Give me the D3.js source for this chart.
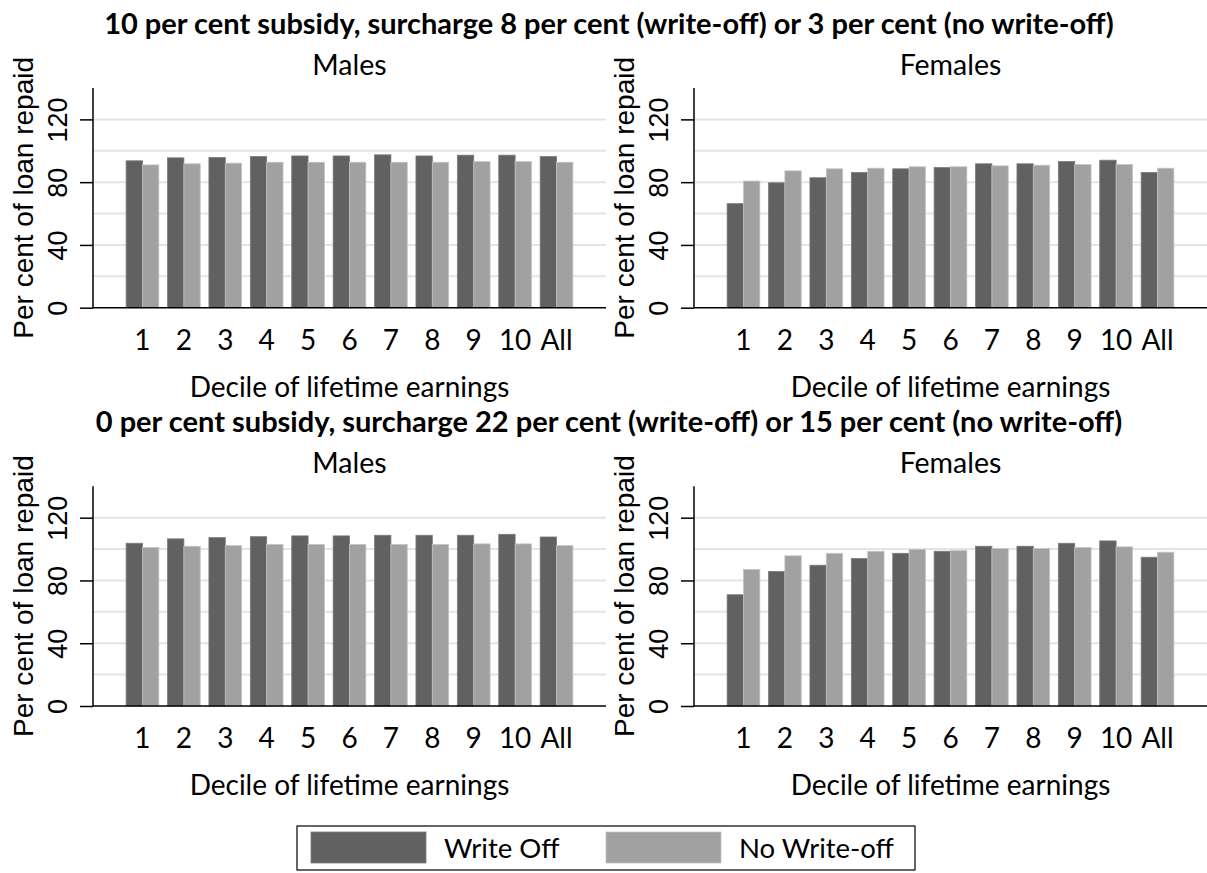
<!DOCTYPE html>
<html>
<head>
<meta charset="utf-8">
<script src="https://cdn.jsdelivr.net/npm/d3@7"></script>
<style>
  html, body { margin: 0; padding: 0; background: #fff; }
  svg { display: block; }
</style>
</head>
<body>
<svg id="chart" width="1207" height="873"></svg>
<script>
// ---------- data ----------
const categories = ["1", "2", "3", "4", "5", "6", "7", "8", "9", "10", "All"];
const seriesNames = ["Write Off", "No Write-off"];

// 10 per cent subsidy
const males10WriteOff     = [93.6, 95.5, 95.7, 96.3, 96.7, 96.7, 97.4, 96.7, 97.2, 97.2, 96.3];
const males10NoWriteOff   = [91.0, 91.7, 92.1, 92.7, 92.7, 92.7, 92.7, 92.7, 93.1, 93.1, 92.7];
const females10WriteOff   = [66.3, 79.6, 82.8, 86.2, 88.5, 89.3, 91.7, 91.7, 93.1, 94.0, 86.2];
const females10NoWriteOff = [80.7, 87.2, 88.5, 88.9, 89.8, 89.8, 90.4, 90.8, 91.2, 91.2, 88.9];
// 0 per cent subsidy
const males0WriteOff      = [103.7, 106.5, 107.3, 107.9, 108.4, 108.4, 108.8, 108.8, 108.8, 109.4, 107.7];
const males0NoWriteOff    = [101.0, 101.8, 102.2, 102.9, 102.9, 102.9, 102.9, 102.9, 103.3, 103.3, 102.2];
const females0WriteOff    = [70.9, 85.7, 89.7, 94.0, 97.3, 98.6, 101.8, 101.8, 103.7, 105.2, 94.8];
const females0NoWriteOff  = [87.0, 95.7, 97.3, 98.6, 99.7, 99.0, 100.3, 100.3, 101.0, 101.4, 98.0];

const yTickValues = [0, 40, 80, 120];
const yGridValues = [20, 40, 60, 80, 100, 120];
const yDomain = [0, 140];

const rowTitles = [
  "10 per cent subsidy, surcharge 8 per cent (write-off) or 3 per cent (no write-off)",
  "0 per cent subsidy, surcharge 22 per cent (write-off) or 15 per cent (no write-off)"
];
const panelTitles = ["Males", "Females"];
const xTitle = "Decile of lifetime earnings";
const yTitle = "Per cent of loan repaid";

const panelData = [
  [[males10WriteOff, males10NoWriteOff], [females10WriteOff, females10NoWriteOff]],
  [[males0WriteOff, males0NoWriteOff], [females0WriteOff, females0NoWriteOff]]
];

// ---------- styling ----------
const colors = ["#616161", "#a1a1a1"];
const edgeColors = ["#7a7a7a", "#c4c4c4"];
const latoFont = "Lato, 'Open Sans', sans-serif";
const axisFont = "'Liberation Sans', Arial, sans-serif";

const svg = d3.select("#chart");

const plotW = 513, plotH = 219.7;
const colLeft = [93, 694];
const rowTop = [88, 486.3];
const rowTitleY = [34, 432.3];

const x = d3.scaleBand().domain(categories).range([0, plotW]).paddingInner(0.21).paddingOuter(0.8);
const xs = d3.scaleBand().domain([0, 1]).range([0, x.bandwidth()]);
const y = d3.scaleLinear().domain(yDomain).range([plotH, 0]);

rowTitles.forEach((t, r) => {
  svg.append("text")
    .attr("x", 609).attr("y", rowTitleY[r])
    .attr("text-anchor", "middle")
    .style("font-family", latoFont).style("font-weight", "bold").style("font-size", "29px")
    .attr("fill", "#000")
    .text(t);
});

for (let r = 0; r < 2; r++) {
  for (let c = 0; c < 2; c++) {
    const g = svg.append("g").attr("transform", `translate(${colLeft[c]},${rowTop[r]})`);

    // panel title
    g.append("text")
      .attr("x", plotW / 2).attr("y", -13)
      .attr("text-anchor", "middle")
      .style("font-family", latoFont).style("font-size", "28.5px")
      .text(panelTitles[c]);

    // gridlines
    g.append("g").selectAll("line").data(yGridValues).join("line")
      .attr("x1", 0).attr("x2", plotW)
      .attr("y1", d => y(d)).attr("y2", d => y(d))
      .attr("stroke", "#e4e4e4").attr("stroke-width", 2);

    // bars
    const series = panelData[r][c];
    const groups = g.append("g").selectAll("g").data(categories).join("g")
      .attr("transform", d => `translate(${x(d)},0)`);
    groups.selectAll("rect")
      .data((d, i) => series.map((s, k) => ({ k, v: s[i] })))
      .join("rect")
      .attr("x", d => xs(d.k))
      .attr("width", xs.bandwidth())
      .attr("y", d => y(d.v))
      .attr("height", d => y(0) - y(d.v))
      .attr("fill", d => colors[d.k])
      .attr("stroke", d => edgeColors[d.k])
      .attr("stroke-width", 0.8);

    // y axis
    const yAxis = d3.axisLeft(y).tickValues(yTickValues).tickSize(13).tickPadding(13).tickFormat(d3.format("d"));
    const ya = g.append("g").call(yAxis);
    ya.select(".domain").attr("stroke", "#000").attr("stroke-width", 1.5).attr("d", `M0,${plotH}V0`);
    ya.selectAll(".tick line").attr("stroke", "#000").attr("stroke-width", 1.5);
    ya.selectAll(".tick text")
      .attr("x", null).attr("y", null).attr("dy", "0")
      .attr("transform", "translate(-26,0) rotate(-90)")
      .attr("text-anchor", "middle")
      .style("font-family", axisFont).style("font-size", "27px").attr("fill", "#000");

    // x axis
    const xAxis = d3.axisBottom(x).tickSize(0).tickPadding(22);
    const xa = g.append("g").attr("transform", `translate(0,${plotH})`).call(xAxis);
    xa.select(".domain").attr("stroke", "#000").attr("stroke-width", 1.5).attr("d", `M0,0H${plotW}`);
    xa.selectAll(".tick text")
      .attr("dy", "0.71em")
      .style("font-family", latoFont).style("font-size", "28px").attr("fill", "#000");

    // axis titles
    g.append("text")
      .attr("x", plotW / 2).attr("y", plotH + 89)
      .attr("text-anchor", "middle")
      .style("font-family", latoFont).style("font-size", "28px")
      .text(xTitle);
    g.append("text")
      .attr("transform", `translate(-60,${plotH / 2}) rotate(-90)`)
      .attr("text-anchor", "middle")
      .style("font-family", axisFont).style("font-size", "28px")
      .text(yTitle);
  }
}

// legend
const legend = svg.append("g");
legend.append("rect")
  .attr("x", 297).attr("y", 826).attr("width", 618).attr("height", 44)
  .attr("fill", "#fff").attr("stroke", "#000").attr("stroke-width", 1.2);
const legendX = [311, 606];
seriesNames.forEach((name, k) => {
  legend.append("rect")
    .attr("x", legendX[k]).attr("y", 832).attr("width", 115).attr("height", 31)
    .attr("fill", colors[k]).attr("stroke", edgeColors[k]).attr("stroke-width", 0.8);
  legend.append("text")
    .attr("x", legendX[k] + 133).attr("y", 858)
    .style("font-family", latoFont).style("font-size", "27.5px")
    .text(name);
});
</script>
</body>
</html>
